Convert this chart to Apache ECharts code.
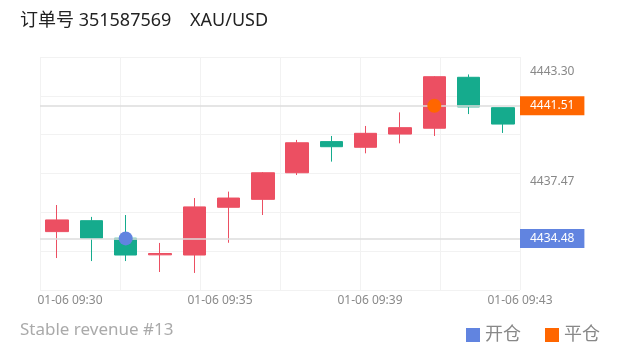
<!DOCTYPE html>
<html><head><meta charset="utf-8">
<script src="https://cdn.jsdelivr.net/npm/echarts@6/dist/echarts.min.js"></script>
<style>html,body{margin:0;padding:0;background:#fff}#c{width:620px;height:352px}</style>
</head><body><div id="c"></div>
<script>
const categories = ['09:30','09:31','09:32','09:33','09:34','09:35','09:36','09:37','09:38','09:39','09:40','09:41','09:42','09:43'];
// [open, close, low, high]
const ohlc = [
  [4434.84, 4435.46, 4433.44, 4436.25],
  [4435.42, 4434.49, 4433.28, 4435.62],
  [4434.49, 4433.60, 4433.28, 4435.72],
  [4433.61, 4433.68, 4432.70, 4434.24],
  [4433.60, 4436.15, 4432.65, 4436.62],
  [4436.13, 4436.62, 4434.25, 4436.96],
  [4436.55, 4437.96, 4435.72, 4438.00],
  [4437.96, 4439.55, 4437.84, 4439.70],
  [4439.61, 4439.34, 4438.55, 4439.91],
  [4439.31, 4440.05, 4438.99, 4440.44],
  [4440.01, 4440.35, 4439.52, 4441.16],
  [4440.32, 4443.05, 4439.91, 4443.08],
  [4443.02, 4441.45, 4441.07, 4443.17],
  [4441.41, 4440.54, 4440.07, 4441.41]
];
const openPoint = [2, 4434.48];
const closePoint = [11, 4441.51];
const yTickLabels = [4443.30, 4437.47];
const xTickLabels = ['01-06 09:30', '01-06 09:35', '01-06 09:39', '01-06 09:43'];
const xTickPos = [0, 1, 2, 3];

const RED = '#ec4f62', GREEN = '#15ab8d', BLUE = '#6184e0', ORANGE = '#ff6600';
const font = "'Noto Sans', 'Noto Sans CJK SC', sans-serif";

const chart = echarts.init(document.getElementById('c'), null, {renderer: 'canvas'});
chart.setOption({
  animation: false,
  backgroundColor: '#fff',
  textStyle: {fontFamily: font},
  title: [
    {text: '订单号 351587569    XAU/USD', left: 15, top: 7,
     textStyle: {fontSize: 18, fontWeight: 'normal', color: '#222', fontFamily: font}},
    {text: 'Stable revenue #13', left: 15, top: 317,
     textStyle: {fontSize: 17, fontWeight: 'normal', color: '#aaa', fontFamily: font}}
  ],
  legend: {
    right: 15, top: 321, icon: 'rect', itemWidth: 14, itemHeight: 14, itemGap: 24,
    textStyle: {fontSize: 18, color: '#888', fontFamily: font},
    data: ['开仓', '平仓']
  },
  grid: {left: 40, right: 100, top: 57, bottom: 62, containLabel: false},
  xAxis: [
    {type: 'category', data: categories, position: 'bottom', boundaryGap: true,
     axisLine: {show: false}, axisTick: {show: false}, axisLabel: {show: false}, splitLine: {show: false}},
    {type: 'value', min: 0, max: 6, interval: 1, position: 'bottom',
     axisLine: {show: false}, axisTick: {show: false}, axisLabel: {show: false},
     splitLine: {show: true, lineStyle: {color: '#f2f2f2', width: 1}}},
    {type: 'value', min: -0.2, max: 3, position: 'bottom',
     axisLine: {show: false}, axisTick: {show: false}, splitLine: {show: false},
     axisLabel: {show: true, customValues: xTickPos, margin: 5, fontSize: 12, color: '#8a8a8a',
       formatter: v => xTickLabels[Math.round(v)]}}
  ],
  yAxis: [
    {type: 'value', min: 4431.746, max: 4444.095, position: 'right', scale: true,
     axisLine: {show: false}, axisTick: {show: false}, splitLine: {show: false},
     axisLabel: {show: true, customValues: yTickLabels, margin: 10, fontSize: 12, color: '#888',
       formatter: v => v.toFixed(2)}},
    {type: 'value', min: 0, max: 6, interval: 1, position: 'left',
     axisLine: {show: false}, axisTick: {show: false}, axisLabel: {show: false},
     splitLine: {show: true, lineStyle: {color: '#f2f2f2', width: 1}}}
  ],
  series: [
    {type: 'candlestick', name: 'K', xAxisIndex: 0, yAxisIndex: 0, data: ohlc, barWidth: 23,
     itemStyle: {color: RED, color0: GREEN, borderColor: RED, borderColor0: GREEN, borderWidth: 1}},
    {type: 'scatter', name: '开仓', xAxisIndex: 0, yAxisIndex: 0, data: [openPoint],
     symbolSize: 14, z: 5, itemStyle: {color: BLUE, opacity: 1},
     markLine: {silent: true, symbol: 'none', z: 3,
       lineStyle: {color: '#dcdcdc', type: 'solid', width: 1.5},
       label: {show: true, position: 'end', distance: 0, backgroundColor: BLUE, color: '#fff',
         padding: [4, 10, 3, 10], fontSize: 12, fontFamily: font, formatter: p => Number(p.value).toFixed(2)},
       data: [{yAxis: openPoint[1]}]}},
    {type: 'scatter', name: '平仓', xAxisIndex: 0, yAxisIndex: 0, data: [closePoint],
     symbolSize: 14, z: 5, itemStyle: {color: ORANGE, opacity: 1},
     markLine: {silent: true, symbol: 'none', z: 3,
       lineStyle: {color: '#dcdcdc', type: 'solid', width: 1.5},
       label: {show: true, position: 'end', distance: 0, backgroundColor: ORANGE, color: '#fff',
         padding: [4, 10, 3, 10], fontSize: 12, fontFamily: font, formatter: p => Number(p.value).toFixed(2)},
       data: [{yAxis: closePoint[1]}]}}
  ]
});
</script></body></html>
